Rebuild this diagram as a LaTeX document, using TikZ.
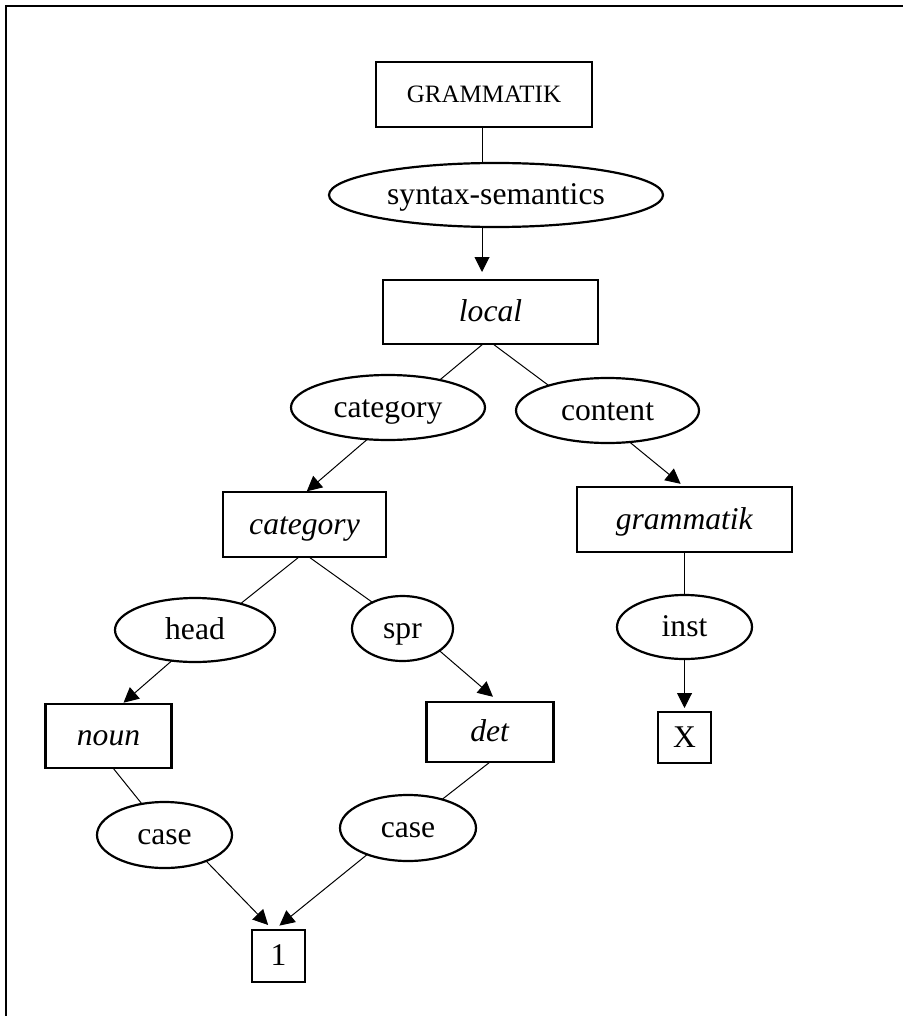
\documentclass[tikz,border=0pt]{standalone}
\usepackage{fontspec}
\setmainfont{Liberation Serif}
\usetikzlibrary{shapes.geometric,arrows.meta}
\begin{document}
\begin{tikzpicture}[x=1pt,y=-1pt,
  every node/.style={inner sep=0pt,outer sep=0pt,text height=27pt,text depth=8pt,
    font=\fontsize{31.6}{36}\selectfont},
  box/.style 2 args={draw,rectangle,line width=2.2pt,minimum width=#1pt,minimum height=#2pt},
  oval/.style 2 args={draw,ellipse,line width=2.2pt,minimum width=#1pt,minimum height=#2pt},
  link/.style={line width=1pt},
  arr/.style={link,-{Triangle[length=15pt,width=15pt]}}]
\useasboundingbox (0,0) rectangle (903,1016);
% frame
\draw[line width=2pt] (6,1016) -- (6,6) -- (903,6);

% nodes
\node[box={216}{65},font=\fontsize{25}{30}\selectfont,text height=22pt,text depth=6pt] (gram) at (484,94.5) {GRAMMATIK};
\node[oval={334}{64}] (synsem) at (496,195) {syntax-semantics};
\node[box={215}{64}] (local) at (490.5,312) {\textit{local}};
\node[oval={194}{65}] (catE) at (388,407.5) {category};
\node[oval={183}{65}] (contE) at (607.5,410.5) {content};
\node[box={163}{65}] (catB) at (304.5,524.5) {\textit{category}};
\node[box={215}{65}] (gramB) at (684.5,519.5) {\textit{grammatik}};
\node[oval={160}{64}] (headE) at (195,630) {head};
\node[oval={101}{65}] (sprE) at (402.5,628.5) {spr};
\node[oval={135}{64}] (instE) at (684.5,627) {inst};
\node[box={126}{64}] (noun) at (108.5,736) {\textit{noun}};
\node[box={127}{60}] (det) at (490,732) {\textit{det}};
\node[box={53}{51}] (xval) at (684.5,737.5) {X};
\node[oval={135}{66}] (caseL) at (164.5,835) {case};
\node[oval={136}{66}] (caseR) at (408,828) {case};
\node[box={53}{52}] (one) at (278.5,956) {1};

% connectors
\draw[link] ([xshift=-2pt]gram.south) -- ([xshift=-2pt]gram.south |- synsem.north);
\draw[arr,shorten >=8pt] ([xshift=-14pt]synsem.south) -- ([xshift=-8.5pt]local.north);
\draw[link] ([xshift=-7.5pt]local.south) -- (catE.28);
\draw[link] ([xshift=2.5pt]local.south) -- (contE.157);
\draw[arr,shorten >=1pt] (catE.237) -- ([xshift=1.5pt]catB.north);
\draw[arr,shorten >=5pt] (contE.305) -- (gramB.north);
\draw[link] ([xshift=-5.5pt]catB.south) -- (headE.30);
\draw[link] ([xshift=4.5pt]catB.south) -- (sprE.139);
\draw[link] (gramB.south) -- (instE.north);
\draw[arr,shorten >=2pt] (headE.233) -- ([xshift=13.5pt]noun.north);
\draw[arr,shorten >=8pt] (sprE.329) -- ([xshift=9pt]det.north);
\draw[arr,shorten >=4pt] (instE.south) -- (xval.north);
\draw[link] ([xshift=4.5pt]noun.south) -- (caseL.126);
\draw[link] (det.south) -- (caseR.40);
\draw[arr,shorten >=7pt] (caseL.328) -- ([xshift=-5.5pt]one.north);
\draw[arr,shorten >=7pt] (caseR.213) -- ([xshift=-4.5pt]one.north);
\end{tikzpicture}
\end{document}
